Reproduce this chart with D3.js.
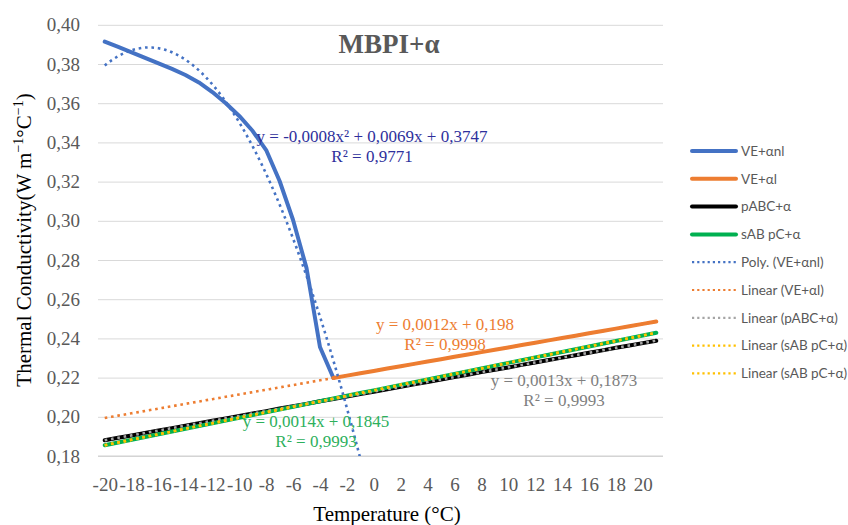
<!DOCTYPE html>
<html><head><meta charset="utf-8">
<script src="https://cdn.jsdelivr.net/npm/d3@7"></script>
<style>body{margin:0;background:#fff}svg{display:block}</style>
</head><body><svg id="c" width="848" height="525"></svg>
<script>
// ---------- data ----------
const categories = [-20,-19,-18,-17,-16,-15,-14,-13,-12,-11,-10,-9,-8,-7,-6,-5,-4,-3,-2,-1,0,1,2,3,4,5,6,7,8,9,10,11,12,13,14,15,16,17,18,19,20,21];
const xTickLabels = [-20,-18,-16,-14,-12,-10,-8,-6,-4,-2,0,2,4,6,8,10,12,14,16,18,20];
const yTickValues = [0.18,0.20,0.22,0.24,0.26,0.28,0.30,0.32,0.34,0.36,0.38,0.40];

const tempsVEnl  = [-20,-19,-18,-17,-16,-15,-14,-13,-12,-11,-10,-9,-8,-7,-6,-5,-4,-3];
const valuesVEnl = [0.3914,0.3887,0.3859,0.3831,0.3803,0.3775,0.3744,0.3706,0.3657,0.3600,0.3535,0.3458,0.3361,0.3203,0.3004,0.2759,0.2356,0.2198];

const tempsVEl  = [-3,-2,-1,0,1,2,3,4,5,6,7,8,9,10,11,12,13,14,15,16,17,18,19,20,21];
const valuesVEl = [0.2198,0.2210,0.2222,0.2234,0.2246,0.2258,0.2270,0.2282,0.2294,0.2306,0.2318,0.2330,0.2342,0.2354,0.2366,0.2378,0.2390,0.2402,0.2414,0.2426,0.2438,0.2450,0.2462,0.2474,0.2486];

const valuesPABC = [0.1880,0.1893,0.1905,0.1918,0.1930,0.1942,0.1955,0.1967,0.1980,0.1992,0.2004,0.2017,0.2029,0.2042,0.2054,0.2066,0.2079,0.2091,0.2104,0.2116,0.2128,0.2141,0.2153,0.2166,0.2178,0.2190,0.2203,0.2215,0.2228,0.2240,0.2252,0.2265,0.2277,0.2290,0.2302,0.2314,0.2327,0.2339,0.2352,0.2364,0.2376,0.2388];
const valuesSAB  = [0.1855,0.1869,0.1883,0.1897,0.1911,0.1925,0.1939,0.1953,0.1967,0.1981,0.1995,0.2009,0.2023,0.2037,0.2051,0.2065,0.2079,0.2093,0.2107,0.2121,0.2135,0.2149,0.2163,0.2177,0.2191,0.2205,0.2219,0.2233,0.2247,0.2261,0.2275,0.2289,0.2303,0.2317,0.2331,0.2345,0.2359,0.2373,0.2387,0.2401,0.2415,0.2429];

const legendLabels = ["VE+αnl","VE+αl","pABC+α","sAB pC+α","Poly. (VE+αnl)","Linear (VE+αl)","Linear (pABC+α)","Linear (sAB pC+α)","Linear (sAB pC+α)"];
const eqBlue   = ["y = -0,0008x² + 0,0069x + 0,3747","R² = 0,9771"];
const eqOrange = ["y = 0,0012x + 0,198","R² = 0,9998"];
const eqGray   = ["y = 0,0013x + 0,1873","R² = 0,9993"];
const eqGreen  = ["y = 0,0014x + 0,1845","R² = 0,9993"];

// ---------- setup ----------
const svg = d3.select("#c");
svg.append("rect").attr("width",848).attr("height",525).attr("fill","#fff");
const L = 98, R = 663, T = 24.8, B = 456;
const x = d3.scaleLinear().domain([-20.5, 21.5]).range([L, R]);
const y = d3.scaleLinear().domain([0.18, 0.40]).range([B, T]);
const serif = "'Liberation Serif','Times New Roman',serif";
const sans = "Lato,'Liberation Sans',sans-serif";

svg.append("clipPath").attr("id","plot").append("rect")
  .attr("x",L).attr("y",T-1).attr("width",R-L).attr("height",B-T+1);

// gridlines + axes
const yAxis = d3.axisLeft(y).tickValues(yTickValues).tickSize(-(R-L)).tickPadding(18)
  .tickFormat(d => d3.format(".2f")(d).replace(".", ","));
const gy = svg.append("g").attr("transform",`translate(${L},0)`).call(yAxis);
gy.select(".domain").remove();
gy.selectAll(".tick line").attr("stroke","#d9d9d9").attr("stroke-width",1);
gy.selectAll(".tick text").attr("fill","#595959").style("font-family",serif).style("font-size","19px");

const xAxis = d3.axisBottom(x).tickValues(xTickLabels).tickSize(0).tickPadding(22)
  .tickFormat(d => String(d));
const gx = svg.append("g").attr("transform",`translate(0,${B})`).call(xAxis);
gx.select(".domain").attr("stroke","#d0d0d0").attr("d",`M${L},0H${R}`);
gx.selectAll(".tick text").attr("fill","#595959").style("font-family",serif).style("font-size","19px");

// ---------- fitting helpers ----------
const idx = t => categories.indexOf(t) + 1;
function linFit(xs, ys){
  const n = xs.length, mx = d3.mean(xs), my = d3.mean(ys);
  let sxy=0, sxx=0; for(let k=0;k<n;k++){sxy+=(xs[k]-mx)*(ys[k]-my); sxx+=(xs[k]-mx)**2;}
  const a = sxy/sxx; return i => a*i + (my - a*mx);
}
function quadFit(xs, ys){
  let S=[0,0,0,0,0], Ty=[0,0,0];
  xs.forEach((xi,k)=>{ for(let p=0;p<5;p++) S[p]+=xi**p; for(let p=0;p<3;p++) Ty[p]+=ys[k]*xi**p; });
  const M=[[S[0],S[1],S[2],Ty[0]],[S[1],S[2],S[3],Ty[1]],[S[2],S[3],S[4],Ty[2]]];
  for(let c=0;c<3;c++){ for(let r=c+1;r<3;r++){ const f=M[r][c]/M[c][c]; for(let k=c;k<4;k++) M[r][k]-=f*M[c][k]; } }
  const s=[0,0,0]; for(let r=2;r>=0;r--){ let v=M[r][3]; for(let k=r+1;k<3;k++) v-=M[r][k]*s[k]; s[r]=v/M[r][r]; }
  return i => s[0] + s[1]*i + s[2]*i*i;
}

const line = d3.line().x(d=>x(d[0])).y(d=>y(d[1]));
const plot = svg.append("g").attr("clip-path","url(#plot)");

// ---------- series ----------
const zip = (ts, vs) => ts.map((t,k)=>[t, vs[k]]);
const solid = [
  {d: zip(tempsVEnl, valuesVEnl), c:"#4472C4"},
  {d: zip(tempsVEl, valuesVEl), c:"#ED7D31"},
  {d: zip(categories, valuesPABC), c:"#000000"},
  {d: zip(categories, valuesSAB), c:"#00B050"}
];
solid.forEach(s => plot.append("path").attr("d", line(s.d)).attr("fill","none")
  .attr("stroke", s.c).attr("stroke-width",4).attr("stroke-linejoin","round").attr("stroke-linecap","round"));

// ---------- trendlines ----------
const fitBlue   = quadFit(tempsVEnl.map(idx), valuesVEnl);
const fitOrange = linFit(tempsVEl.map(idx), valuesVEl);
const fitBlack  = linFit(categories.map(idx), valuesPABC);
const fitGreen  = linFit(categories.map(idx), valuesSAB);
const fine = d3.range(1, 42.001, 0.25);
const trend = [
  {f: fitBlue, c:"#4472C4"},
  {f: fitOrange, c:"#ED7D31"},
  {f: fitBlack, c:"#A5A5A5"},
  {f: fitGreen, c:"#FFC000"},
  {f: fitGreen, c:"#FFC000"}
];
trend.forEach(t => plot.append("path")
  .attr("d", line(fine.map(i => [i - 21, t.f(i)])))
  .attr("fill","none").attr("stroke", t.c).attr("stroke-width",2.6)
  .attr("stroke-dasharray","2.6,3.8"));

// ---------- title & axis titles ----------
svg.append("text").attr("x",389).attr("y",53).attr("text-anchor","middle")
  .style("font-family",serif).style("font-size","27px").style("font-weight","bold")
  .attr("fill","#595959").text("MBPI+α");

svg.append("text").attr("x",387).attr("y",521).attr("text-anchor","middle")
  .style("font-family",serif).style("font-size","21px").attr("fill","#000")
  .text("Temperature (°C)");

const yt = svg.append("text").attr("transform","translate(31,240) rotate(-90)").attr("text-anchor","middle")
  .style("font-family",serif).style("font-size","21px").attr("fill","#000");
yt.append("tspan").text("Thermal Conductivity(W m");
yt.append("tspan").attr("dy",-8).style("font-size","14px").text("−1");
yt.append("tspan").attr("dy",8).text("°C");
yt.append("tspan").attr("dy",-8).style("font-size","14px").text("−1");
yt.append("tspan").attr("dy",8).text(")");

// ---------- equations ----------
function eq(lines, cx, y0, color){
  lines.forEach((s,k)=> svg.append("text").attr("x",cx).attr("y",y0 + k*19.5).attr("text-anchor","middle")
    .style("font-family",serif).style("font-size","17px").attr("fill",color).text(s));
}
eq(eqBlue, 372, 142, "#2E309C");
eq(eqOrange, 445, 330, "#ED7D31");
eq(eqGray, 564, 386, "#7F7F7F");
eq(eqGreen, 316, 427, "#2DB05C");

// ---------- legend ----------
const legendStyles = [
  {c:"#4472C4", w:4, dash:null},{c:"#ED7D31", w:4, dash:null},{c:"#000000", w:4, dash:null},{c:"#00B050", w:4, dash:null},
  {c:"#4472C4", w:2.2, dash:"2.2,3"},{c:"#ED7D31", w:2.2, dash:"2.2,3"},{c:"#A5A5A5", w:2.2, dash:"2.2,3"},
  {c:"#FFC000", w:2.2, dash:"2.2,3"},{c:"#FFC000", w:2.2, dash:"2.2,3"}
];
const lg = svg.append("g");
legendLabels.forEach((lab,k)=>{
  const yy = 151 + k*27.8, st = legendStyles[k];
  lg.append("line").attr("x1",692).attr("x2",736).attr("y1",yy).attr("y2",yy)
    .attr("stroke",st.c).attr("stroke-width",st.w).attr("stroke-dasharray",st.dash)
    .attr("stroke-linecap", st.dash ? "butt" : "round");
  lg.append("text").attr("x",741).attr("y",yy).attr("dy","0.35em")
    .style("font-family",sans).style("font-size","13.5px").attr("fill","#595959").text(lab);
});
</script></body></html>
